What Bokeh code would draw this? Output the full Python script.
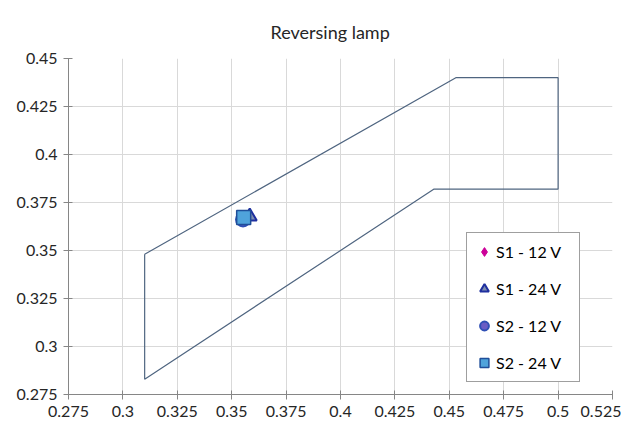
from bokeh.plotting import figure
from bokeh.models import Range1d, FixedTicker, Legend, LegendItem
from bokeh.embed import file_html
from bokeh.resources import INLINE

title_text = "Reversing lamp"

# boundary polygon (chromaticity limits)
bound_x = [0.310, 0.453, 0.500, 0.500, 0.443, 0.310, 0.310]
bound_y = [0.348, 0.440, 0.440, 0.382, 0.382, 0.283, 0.348]

series_names = ["S1 - 12 V", "S1 - 24 V", "S2 - 12 V", "S2 - 24 V"]
series_x = [0.356, 0.3583, 0.3552, 0.3555]
series_y = [0.367, 0.3677, 0.3662, 0.3672]

x_ticks = [0.275, 0.3, 0.325, 0.35, 0.375, 0.4, 0.425, 0.45, 0.475, 0.5, 0.525]
x_labels = ["0.275", "0.3", "0.325", "0.35", "0.375", "0.4", "0.425", "0.45", "0.475", "0.5", "0.525"]
y_ticks = [0.275, 0.3, 0.325, 0.35, 0.375, 0.4, 0.425, 0.45]
y_labels = ["0.275", "0.3", "0.325", "0.35", "0.375", "0.4", "0.425", "0.45"]

FONT = "Lato"

p = figure(frame_width=544, frame_height=336, output_backend="svg", toolbar_location=None,
           x_range=Range1d(0.275, 0.525), y_range=Range1d(0.275, 0.45),
           min_border_left=68, min_border_top=58, min_border_bottom=30, min_border_right=9,
           title=title_text)
p.outline_line_color = None
p.title.align = "left"
p.title.offset = 202
p.title.vertical_align = "top"
p.title.standoff = 27
p.title.text_font = FONT
p.title.text_font_size = "18px"
p.title.text_font_style = "normal"
p.title.text_color = "#262626"

for ax, ticks, labels in ((p.xaxis[0], x_ticks, x_labels), (p.yaxis[0], y_ticks, y_labels)):
    ax.ticker = FixedTicker(ticks=ticks)
    ax.major_label_overrides = {t: l for t, l in zip(ticks, labels)}
    ax.minor_tick_line_color = None
    ax.major_tick_in = 4
    ax.major_tick_out = 5
    ax.major_tick_line_color = "#868686"
    ax.axis_line_color = "#868686"
    ax.major_label_text_font = FONT
    ax.major_label_text_font_size = "16px"
    ax.major_label_text_color = "#262626"
    ax.major_label_standoff = 6

p.xgrid.ticker = FixedTicker(ticks=x_ticks)
p.ygrid.ticker = FixedTicker(ticks=y_ticks)
p.grid.grid_line_color = "#D9D9D9"

p.line(bound_x, bound_y, line_color="#4F6580", line_width=1.2)

r1 = p.scatter([series_x[0]], [series_y[0]], marker="diamond", size=15,
               fill_color="#CC0099", line_color="#CC0099")
r2 = p.scatter([series_x[1]], [series_y[1]], marker="triangle", size=14,
               fill_color="#7F8FAF", line_color="#1F2F9F", line_width=2)
r3 = p.scatter([series_x[2]], [series_y[2]], marker="circle", size=14,
               fill_color="#6A5CC4", line_color="#2F4FB5", line_width=2)
r4 = p.scatter([series_x[3]], [series_y[3]], marker="square", size=14,
               fill_color="#4FA3DB", line_color="#1F4E99", line_width=1.5)

legend = Legend(items=[LegendItem(label=n, renderers=[r]) for n, r in zip(series_names, [r1, r2, r3, r4])],
                location=(398, 12))
legend.label_text_font = FONT
legend.label_text_font_size = "16px"
legend.label_text_color = "#000000"
legend.glyph_height = 25
legend.glyph_width = 22
legend.label_height = 25
legend.label_width = 77
legend.spacing = 12
legend.padding = 6
legend.margin = 0
legend.label_standoff = 1
legend.border_line_color = "#404040"
legend.border_line_width = 1
legend.background_fill_color = "white"
legend.background_fill_alpha = 1
p.add_layout(legend)

open("out.html", "w").write(file_html(p, INLINE))
